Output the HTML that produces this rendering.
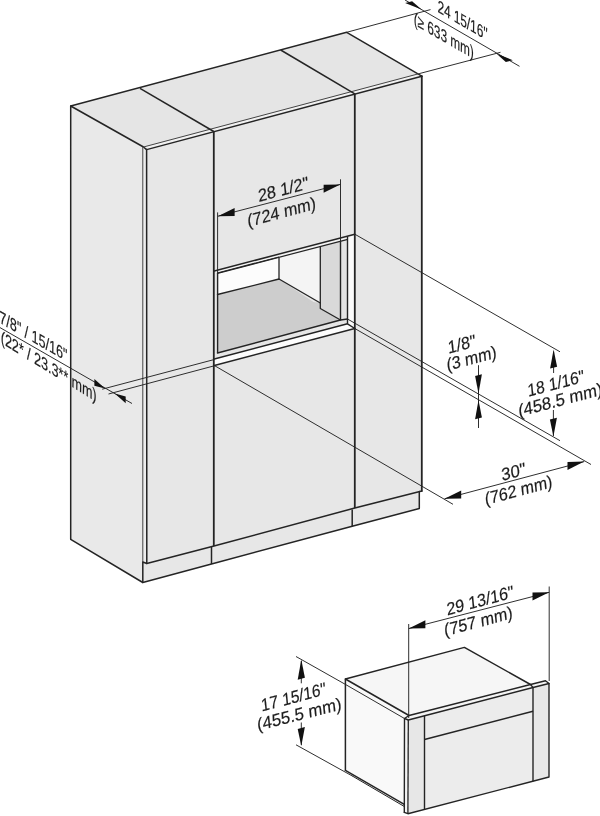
<!DOCTYPE html>
<html lang="en"><head><meta charset="utf-8"><title>Installation dimensions</title>
<style>
html,body{margin:0;padding:0;background:#fff;}
body{width:600px;height:816px;overflow:hidden;}
svg{display:block;will-change:transform;filter:grayscale(1);}
svg text{font-family:"Liberation Sans",sans-serif;fill:#1c1c1c;stroke:#1c1c1c;stroke-width:0.18px;}
</style></head><body>
<svg width="600" height="816" viewBox="0 0 600 816">
<rect width="600" height="816" fill="#fff"/>
<polygon points="70.7,106.0 346.7,32.3 421.8,76.2 146.6,149.6 143.5,147.0" fill="#e5e5e5"/>
<polygon points="70.7,106.0 143.5,147.0 142.8,582.5 70.7,539.3" fill="#e9e9e9"/>
<polygon points="143.5,147.0 146.6,149.6 146.8,563.5 142.8,562.0" fill="#ededed"/>
<polygon points="146.6,149.6 421.8,76.2 421.8,491.0 146.8,563.5" fill="#e7e7e7"/>
<polygon points="143.5,147.0 419.3,73.6 421.8,76.2 146.6,149.6" fill="#f1f1f1"/>
<polygon points="142.8,562.0 146.8,563.5 214.0,546.0 354.8,508.0 421.8,491.0 419.3,491.5 419.3,508.5 352.2,526.2 211.5,564.0 142.8,582.5" fill="#e7e7e7"/>
<polygon points="217.5,294.5 279.0,279.0 340.5,320.0 217.5,353.0" fill="#cdcdcd"/>
<polygon points="217.5,273.0 279.0,257.0 279.0,279.0 217.5,294.5" fill="#fcfcfc"/>
<polygon points="279.0,257.0 320.3,246.5 320.3,303.0 279.0,279.0" fill="#f4f4f4"/>
<polygon points="320.3,246.5 340.5,241.2 340.5,320.0 320.3,308.5" fill="#d9d9d9"/>
<polygon points="320.3,303.0 320.3,308.5 340.5,320.0 300.0,300.0" fill="#cdcdcd"/>
<polygon points="340.5,241.2 347.5,239.3 347.5,319.0 340.5,320.0" fill="#e4e4e4"/>
<polygon points="347.5,236.2 354.8,234.2 354.8,328.5 347.5,323.8" fill="#fbfbfb"/>
<polygon points="217.5,353.0 340.5,320.0 347.5,319.0 347.5,323.8 214.3,359.0 214.3,354.0" fill="#e6e6e6"/>
<polygon points="214.3,359.0 347.5,323.8 354.8,328.5 214.3,365.5" fill="#fdfdfd"/>
<polygon points="214.3,271.0 354.8,234.2 347.5,239.3 217.5,273.2" fill="#f3f3f3"/>
<line x1="217.5" y1="273.0" x2="279.0" y2="257.0" stroke="#242424" stroke-width="1.2" stroke-linecap="butt"/>
<polyline points="217.5,294.5 279.0,279.0 320.3,303.0" fill="none" stroke="#242424" stroke-width="1.3" stroke-linejoin="round" stroke-linecap="round"/>
<line x1="279.0" y1="257.5" x2="279.0" y2="279.0" stroke="#242424" stroke-width="1.3" stroke-linecap="butt"/>
<polyline points="320.3,246.8 320.3,308.5 340.5,320.0" fill="none" stroke="#242424" stroke-width="1.3" stroke-linejoin="round" stroke-linecap="round"/>
<polyline points="214.3,271.0 354.8,234.2" fill="none" stroke="#242424" stroke-width="1.5" stroke-linejoin="round" stroke-linecap="round"/>
<polyline points="217.5,273.3 346.8,239.6" fill="none" stroke="#242424" stroke-width="1.2" stroke-linejoin="round" stroke-linecap="round"/>
<line x1="347.5" y1="236.3" x2="347.5" y2="323.8" stroke="#242424" stroke-width="1.4" stroke-linecap="butt"/>
<polyline points="217.5,353.0 340.5,320.0 347.5,319.0" fill="none" stroke="#242424" stroke-width="1.4" stroke-linejoin="round" stroke-linecap="round"/>
<polyline points="214.3,359.0 347.5,323.8 354.8,328.5" fill="none" stroke="#242424" stroke-width="1.4" stroke-linejoin="round" stroke-linecap="round"/>
<polyline points="214.3,365.5 354.8,328.5" fill="none" stroke="#242424" stroke-width="1.4" stroke-linejoin="round" stroke-linecap="round"/>
<line x1="217.6" y1="212.4" x2="217.6" y2="273.0" stroke="#242424" stroke-width="0.95" stroke-linecap="butt"/>
<line x1="217.6" y1="273.0" x2="217.6" y2="353.0" stroke="#242424" stroke-width="1.4" stroke-linecap="butt"/>
<line x1="340.5" y1="179.3" x2="340.5" y2="241.0" stroke="#242424" stroke-width="0.95" stroke-linecap="butt"/>
<line x1="340.5" y1="241.0" x2="340.5" y2="320.0" stroke="#242424" stroke-width="1.4" stroke-linecap="butt"/>
<polyline points="70.7,106.0 346.7,32.3 421.8,76.2" fill="none" stroke="#242424" stroke-width="1.5" stroke-linejoin="round" stroke-linecap="round"/>
<polyline points="70.7,539.3 70.7,106.0 143.5,147.0 146.6,149.6" fill="none" stroke="#242424" stroke-width="1.5" stroke-linejoin="round" stroke-linecap="round"/>
<polyline points="143.5,147.0 419.3,73.6" fill="none" stroke="#444" stroke-width="1.0" stroke-linejoin="round" stroke-linecap="round"/>
<polyline points="146.6,149.6 421.8,76.2" fill="none" stroke="#242424" stroke-width="1.5" stroke-linejoin="round" stroke-linecap="round"/>
<line x1="142.8" y1="147.0" x2="142.8" y2="562.0" stroke="#444" stroke-width="1.0" stroke-linecap="butt"/>
<polyline points="146.6,149.6 146.8,563.5" fill="none" stroke="#242424" stroke-width="1.5" stroke-linejoin="round" stroke-linecap="round"/>
<polyline points="421.8,76.2 421.8,491.0" fill="none" stroke="#242424" stroke-width="1.8" stroke-linejoin="round" stroke-linecap="round"/>
<polyline points="70.7,539.3 142.8,582.5 211.5,564.0 352.2,526.2 419.3,508.5 419.3,491.5" fill="none" stroke="#242424" stroke-width="1.5" stroke-linejoin="round" stroke-linecap="round"/>
<polyline points="142.8,582.5 142.8,562.0 146.8,563.5 214.0,546.0 354.8,508.0 421.8,491.0" fill="none" stroke="#242424" stroke-width="1.5" stroke-linejoin="round" stroke-linecap="round"/>
<line x1="211.5" y1="547.0" x2="211.5" y2="564.0" stroke="#242424" stroke-width="1.5" stroke-linecap="butt"/>
<line x1="352.2" y1="509.5" x2="352.2" y2="526.2" stroke="#242424" stroke-width="1.5" stroke-linecap="butt"/>
<line x1="213.8" y1="131.5" x2="213.8" y2="546.0" stroke="#242424" stroke-width="1.8" stroke-linecap="butt"/>
<line x1="354.8" y1="93.8" x2="354.8" y2="508.0" stroke="#242424" stroke-width="1.8" stroke-linecap="butt"/>
<line x1="140.0" y1="88.3" x2="213.8" y2="131.5" stroke="#242424" stroke-width="1.5" stroke-linecap="butt"/>
<line x1="280.7" y1="50.0" x2="354.8" y2="93.8" stroke="#242424" stroke-width="1.5" stroke-linecap="butt"/>
<line x1="346.7" y1="32.3" x2="430.5" y2="9.6" stroke="#242424" stroke-width="0.95" stroke-linecap="butt"/>
<line x1="419.3" y1="73.6" x2="500.5" y2="52.3" stroke="#242424" stroke-width="0.95" stroke-linecap="butt"/>
<line x1="405.0" y1="0.0" x2="519.5" y2="66.3" stroke="#242424" stroke-width="0.95" stroke-linecap="butt"/>
<polygon points="421.6,9.6 412.1,1.2 405.1,3.0" fill="#111"/>
<polygon points="496.3,53.6 512.8,60.2 505.8,62.0" fill="#111"/>
<line x1="217.9" y1="216.2" x2="340.3" y2="184.4" stroke="#242424" stroke-width="0.95" stroke-linecap="butt"/>
<polygon points="217.9,216.2 234.6,215.9 234.6,207.9" fill="#111"/>
<polygon points="340.3,184.4 323.6,192.7 323.6,184.7" fill="#111"/>
<line x1="0.0" y1="327.6" x2="132.0" y2="403.5" stroke="#242424" stroke-width="0.95" stroke-linecap="butt"/>
<line x1="102.2" y1="389.2" x2="214.3" y2="359.5" stroke="#242424" stroke-width="0.95" stroke-linecap="butt"/>
<line x1="108.5" y1="394.0" x2="214.3" y2="365.8" stroke="#242424" stroke-width="0.95" stroke-linecap="butt"/>
<polygon points="105.0,388.4 94.4,385.7 94.4,378.9" fill="#111"/>
<polygon points="114.8,393.6 125.7,403.3 125.7,396.5" fill="#111"/>
<line x1="354.8" y1="234.2" x2="560.0" y2="351.8" stroke="#242424" stroke-width="0.95" stroke-linecap="butt"/>
<line x1="347.5" y1="319.0" x2="560.0" y2="440.7" stroke="#242424" stroke-width="0.95" stroke-linecap="butt"/>
<line x1="354.8" y1="328.5" x2="591.0" y2="464.5" stroke="#242424" stroke-width="0.95" stroke-linecap="butt"/>
<line x1="214.3" y1="365.5" x2="453.0" y2="504.3" stroke="#242424" stroke-width="0.95" stroke-linecap="butt"/>
<line x1="553.6" y1="351.6" x2="553.6" y2="373.0" stroke="#242424" stroke-width="0.95" stroke-linecap="butt"/>
<line x1="553.4" y1="410.0" x2="553.4" y2="436.0" stroke="#242424" stroke-width="0.95" stroke-linecap="butt"/>
<polygon points="553.6,349.6 557.1,366.7 550.1,368.5" fill="#111"/>
<polygon points="553.4,436.6 556.9,417.7 549.9,419.5" fill="#111"/>
<line x1="478.5" y1="365.2" x2="478.5" y2="428.0" stroke="#242424" stroke-width="0.95" stroke-linecap="butt"/>
<polygon points="478.5,393.6 481.9,374.3 475.1,376.1" fill="#111"/>
<polygon points="478.5,400.0 481.9,417.4 475.1,419.2" fill="#111"/>
<line x1="444.5" y1="498.8" x2="584.2" y2="461.6" stroke="#242424" stroke-width="0.95" stroke-linecap="butt"/>
<polygon points="444.5,498.8 461.2,498.4 461.2,490.4" fill="#111"/>
<polygon points="584.2,461.6 567.5,470.0 567.5,462.0" fill="#111"/>
<polygon points="345.4,679.0 464.4,647.4 530.5,684.5 409.0,715.5" fill="#f6f6f6"/>
<polygon points="345.4,679.0 409.0,715.5 404.5,718.5 404.3,804.3 345.4,770.3" fill="#f9f9f9"/>
<polygon points="345.4,770.3 404.3,804.3 404.3,806.5 352.3,776.0" fill="#f2f2f2"/>
<polygon points="404.5,718.5 408.3,720.0 407.9,813.7 404.3,812.3" fill="#f4f4f4"/>
<polygon points="404.5,718.5 409.0,715.5 530.5,684.5 545.5,680.8 549.0,683.5 533.0,687.5 408.3,720.0" fill="#f4f4f4"/>
<polygon points="408.3,720.0 424.5,715.8 424.5,809.4 407.9,813.7" fill="#e7e7e7"/>
<polygon points="424.5,715.8 533.0,687.5 533.0,781.2 424.5,809.4" fill="#ececec"/>
<polygon points="533.0,687.5 549.0,683.5 549.0,777.0 533.0,781.2" fill="#e7e7e7"/>
<polyline points="345.4,770.3 345.4,679.0 464.4,647.4 530.5,684.5" fill="none" stroke="#242424" stroke-width="1.5" stroke-linejoin="round" stroke-linecap="round"/>
<polyline points="345.4,679.0 409.0,715.5" fill="none" stroke="#242424" stroke-width="1.5" stroke-linejoin="round" stroke-linecap="round"/>
<line x1="345.4" y1="684.4" x2="404.5" y2="718.5" stroke="#242424" stroke-width="0.95" stroke-linecap="butt"/>
<polyline points="404.3,812.3 404.5,718.5 409.0,715.5 530.5,684.5 545.5,680.8 549.0,683.5" fill="none" stroke="#242424" stroke-width="1.4" stroke-linejoin="round" stroke-linecap="round"/>
<polyline points="404.5,718.5 408.3,720.0 533.0,687.5 549.0,683.5 549.0,777.0 407.9,813.7 404.3,812.3" fill="none" stroke="#242424" stroke-width="1.4" stroke-linejoin="round" stroke-linecap="round"/>
<line x1="530.5" y1="684.5" x2="533.0" y2="687.5" stroke="#242424" stroke-width="1.2" stroke-linecap="butt"/>
<line x1="408.3" y1="720.0" x2="407.9" y2="813.7" stroke="#242424" stroke-width="1.3" stroke-linecap="butt"/>
<line x1="533.0" y1="687.5" x2="533.0" y2="781.2" stroke="#242424" stroke-width="1.4" stroke-linecap="butt"/>
<line x1="424.5" y1="715.8" x2="424.5" y2="809.4" stroke="#242424" stroke-width="1.4" stroke-linecap="butt"/>
<line x1="424.5" y1="739.5" x2="533.0" y2="711.2" stroke="#242424" stroke-width="1.4" stroke-linecap="butt"/>
<polyline points="345.4,770.3 404.3,804.3" fill="none" stroke="#242424" stroke-width="1.5" stroke-linejoin="round" stroke-linecap="round"/>
<polyline points="352.3,776.0 404.3,806.5" fill="none" stroke="#242424" stroke-width="1.0" stroke-linejoin="round" stroke-linecap="round"/>
<line x1="408.7" y1="624.0" x2="408.7" y2="718.0" stroke="#242424" stroke-width="0.95" stroke-linecap="butt"/>
<line x1="549.2" y1="586.5" x2="549.2" y2="681.0" stroke="#242424" stroke-width="0.95" stroke-linecap="butt"/>
<line x1="408.7" y1="628.6" x2="549.2" y2="592.3" stroke="#242424" stroke-width="0.95" stroke-linecap="butt"/>
<polygon points="408.7,628.6 425.4,628.3 425.4,620.3" fill="#111"/>
<polygon points="549.2,592.3 532.5,600.6 532.5,592.6" fill="#111"/>
<line x1="296.0" y1="656.5" x2="345.4" y2="684.4" stroke="#242424" stroke-width="0.95" stroke-linecap="butt"/>
<line x1="296.0" y1="744.8" x2="352.3" y2="776.0" stroke="#242424" stroke-width="0.95" stroke-linecap="butt"/>
<line x1="301.3" y1="661.0" x2="301.3" y2="683.3" stroke="#242424" stroke-width="0.95" stroke-linecap="butt"/>
<line x1="301.3" y1="722.5" x2="301.3" y2="745.0" stroke="#242424" stroke-width="0.95" stroke-linecap="butt"/>
<polygon points="301.3,659.4 304.9,677.7 297.7,679.7" fill="#111"/>
<polygon points="301.3,745.9 304.9,726.9 297.7,728.9" fill="#111"/>
<text transform="matrix(0.6928 0.4000 -0.0180 1.0298 462.5 20.0)" font-size="17" text-anchor="middle" dominant-baseline="central">24 15/16&quot;</text>
<text transform="matrix(0.6928 0.4000 -0.0180 1.0298 443.8 35.5)" font-size="17" text-anchor="middle" dominant-baseline="central">(≥ 633 mm)</text>
<text transform="matrix(0.9418 -0.2523 0.1077 1.0244 283.2 189.6)" font-size="17" text-anchor="middle" dominant-baseline="central">28 1/2&quot;</text>
<text transform="matrix(0.9418 -0.2523 0.1077 1.0244 281.6 212.3)" font-size="17" text-anchor="middle" dominant-baseline="central">(724 mm)</text>
<text transform="matrix(0.7361 0.4250 -0.0180 1.0298 33.4 335.6)" font-size="17" text-anchor="middle" dominant-baseline="central">7/8&quot; / 15/16&quot;</text>
<text transform="matrix(0.7343 0.4553 -0.0180 1.0298 48.7 365.8)" font-size="17" text-anchor="middle" dominant-baseline="central">(22* / 23.3** mm)</text>
<text transform="matrix(0.9273 -0.2485 0.1077 1.0244 461.7 344.5)" font-size="17" text-anchor="middle" dominant-baseline="central">1/8&quot;</text>
<text transform="matrix(0.9273 -0.2485 0.1077 1.0244 471.5 358.6)" font-size="17" text-anchor="middle" dominant-baseline="central">(3 mm)</text>
<text transform="matrix(0.8983 -0.2407 0.1077 1.0244 555.8 383.5)" font-size="17" text-anchor="middle" dominant-baseline="central">18 1/16&quot;</text>
<text transform="matrix(0.9659 -0.2588 0.1077 1.0244 560.2 399.7)" font-size="17" text-anchor="middle" dominant-baseline="central">(458.5 mm)</text>
<text transform="matrix(0.9659 -0.2588 0.1077 1.0244 513.5 471.6)" font-size="17" text-anchor="middle" dominant-baseline="central">30&quot;</text>
<text transform="matrix(0.9273 -0.2485 0.1077 1.0244 518.5 490.5)" font-size="17" text-anchor="middle" dominant-baseline="central">(762 mm)</text>
<text transform="matrix(0.9273 -0.2485 0.1077 1.0244 480.0 600.8)" font-size="17" text-anchor="middle" dominant-baseline="central">29 13/16&quot;</text>
<text transform="matrix(0.9369 -0.2511 0.1077 1.0244 478.3 621.6)" font-size="17" text-anchor="middle" dominant-baseline="central">(757 mm)</text>
<text transform="matrix(0.8935 -0.2394 0.1077 1.0244 293.5 697.2)" font-size="17" text-anchor="middle" dominant-baseline="central">17 15/16&quot;</text>
<text transform="matrix(0.9694 -0.2453 0.1077 1.0244 299.2 714.1)" font-size="17" text-anchor="middle" dominant-baseline="central">(455.5 mm)</text>
</svg>
</body></html>
